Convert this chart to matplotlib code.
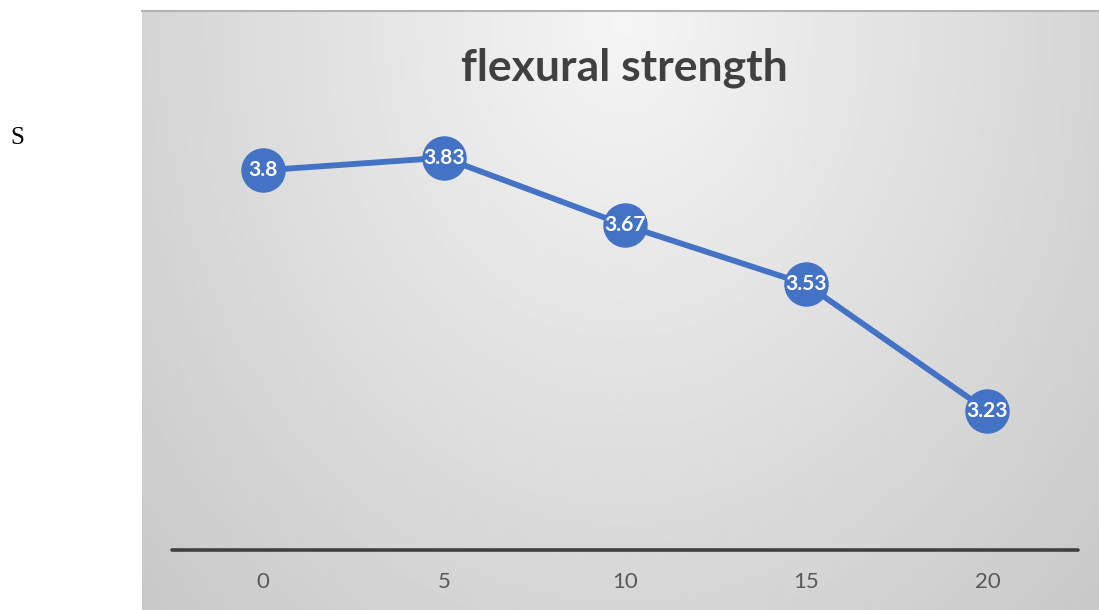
import matplotlib.pyplot as plt
import numpy as np

# data
categories = ['0', '5', '10', '15', '20']
strength = [3.8, 3.83, 3.67, 3.53, 3.23]

W, H = 1099, 610
fig = plt.figure(figsize=(W / 100, H / 100), dpi=100)
fig.patch.set_facecolor('white')

# chart area with radial grey gradient
bg = fig.add_axes([142 / W, 0, (W - 142) / W, (H - 10) / H])
ny, nx = 300, 480
yy, xx = np.mgrid[0:ny, 0:nx]
dist = np.sqrt(((xx - nx * 0.5) / (nx * 0.6)) ** 2 + ((yy - ny * 0.02) / (ny * 1.2)) ** 2)
shade = 0.96 - 0.15 * np.clip(dist, 0, 1.2)
bg.imshow(shade, cmap='gray', vmin=0, vmax=1, aspect='auto', extent=[0, 1, 0, 1], origin='upper')
bg.axis('off')
fig.add_artist(plt.Line2D([142 / W, 1], [1 - 10.5 / H, 1 - 10.5 / H], color='#b4b4b4', lw=1.5))

# left margin stray letter
fig.text(17 / W, 1 - 138 / H, 'S', family='Liberation Serif',
         fontsize=18, ha='center', va='center', color='black')

ax = fig.add_axes([172 / W, 60 / H, 906 / W, 464 / H])
ax.set_facecolor('none')
x = np.arange(len(categories))
ax.plot(x, strength, color='#4472C4', lw=4.2, marker='o', markersize=31,
        markerfacecolor='#4472C4', markeredgecolor='#4472C4', solid_capstyle='round')
for xi, v in zip(x, strength):
    ax.text(xi, v, f'{v:g}', ha='center', va='center', color='white',
            fontsize=15, fontweight='bold', family='Lato')

ax.set_xlim(-0.5, 4.5)
ax.set_ylim(2.9, 4.0)
ax.set_xticks(x)
ax.set_xticklabels(categories, family='Lato', fontsize=16, color='#595959')
ax.tick_params(axis='x', length=0, pad=16)
ax.set_yticks([])
for s in ['top', 'left', 'right']:
    ax.spines[s].set_visible(False)
ax.spines['bottom'].set_color('#404040')
ax.spines['bottom'].set_linewidth(2.6)
ax.spines['bottom'].set_capstyle('round')

fig.text(624 / W, 1 - 68 / H, 'flexural strength', ha='center', va='center',
         family='Lato', fontweight='bold', fontsize=32, color='#404040')

fig.savefig('out.png', dpi=100)
